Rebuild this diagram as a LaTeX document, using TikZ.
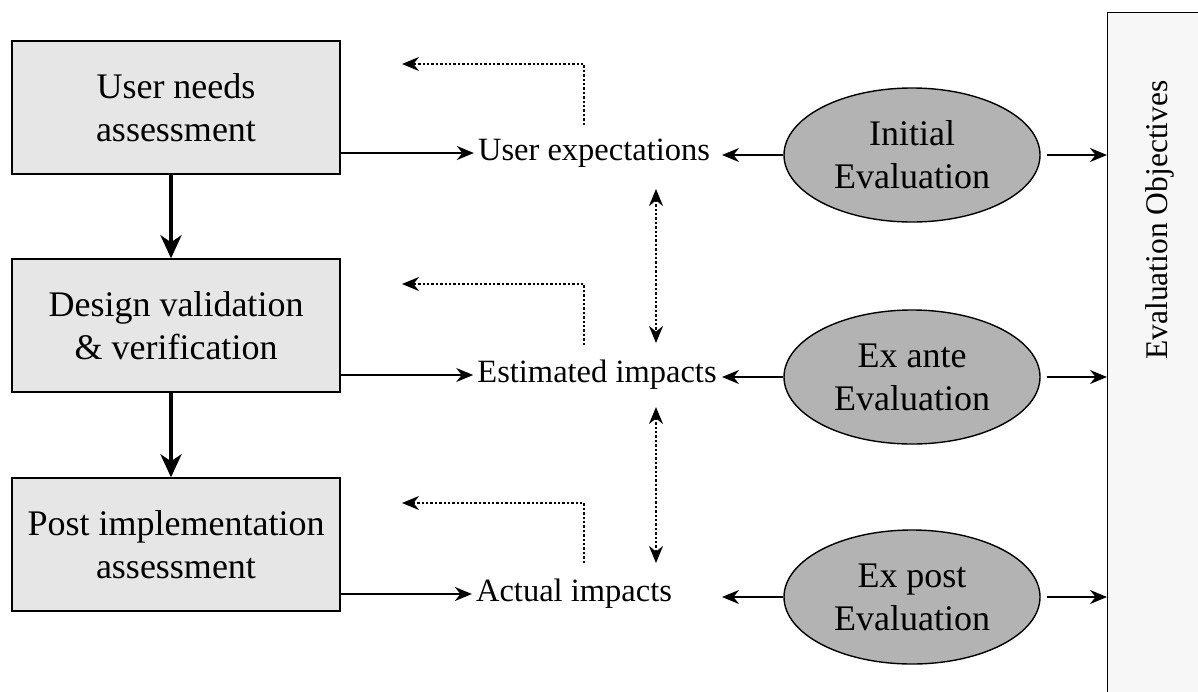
\documentclass[tikz,border=0pt]{standalone}
\usepackage{fontspec}
\setmainfont{Liberation Serif}
\usetikzlibrary{arrows.meta,shapes.geometric}
\begin{document}
\begin{tikzpicture}[x=1pt,y=-1pt,
  box/.style={draw,line width=1.4pt,fill=boxgray,minimum width=328pt,minimum height=133pt,align=center,font=\fontsize{36}{43}\selectfont},
  ell/.style={draw,line width=1.4pt,fill=ellgray,ellipse,minimum width=256pt,minimum height=134pt,align=center,font=\fontsize{36}{43}\selectfont,inner sep=0pt},
  lbl/.style={font=\fontsize{32.5}{39}\selectfont,inner sep=4pt},
  arr/.style={line width=1.6pt,-{Stealth[length=17pt,width=14pt,inset=5.5pt]}},
  darr/.style={line width=1.6pt,{Stealth[length=17pt,width=14pt,inset=5.5pt]}-{Stealth[length=17pt,width=14pt,inset=5.5pt]}},
  thickarr/.style={line width=4pt,-{Stealth[length=23pt,width=21pt,inset=7pt]}},
  dotline/.style={line width=2.5pt,dash pattern=on 2.4pt off 2pt}
]
\definecolor{boxgray}{HTML}{E6E6E6}
\definecolor{ellgray}{HTML}{B3B3B3}
\definecolor{objgray}{HTML}{F7F7F7}
\useasboundingbox (0,0) rectangle (1198,691);
\fill[white] (0,0) rectangle (1198,691);

% left boxes
\node[box] (b1) at (176,107.5) {User needs\\assessment};
\node[box] (b2) at (176,325.5) {Design validation\\\& verification};
\node[box] (b3) at (176,544.5) {Post implementation\\assessment};

% middle labels
\node[lbl] (ue) at (594,153) {User expectations};
\node[lbl] (ei) at (597,375) {Estimated impacts};
\node[lbl] (ai) at (574,594) {Actual impacts};

% ellipses
\node[ell] (ie) at (912,155) {Initial\\Evaluation};
\node[ell] (xa) at (912,377) {Ex ante\\Evaluation};
\node[ell] (xp) at (912,597) {Ex post\\Evaluation};

% objectives box
\node[draw,line width=1.4pt,fill=objgray,anchor=north west,minimum width=120pt,minimum height=720pt,inner sep=0pt] (eo) at (1107,12) {};
\node[rotate=90,font=\fontsize{31.5}{38}\selectfont] (eot) at (1160,220) {Evaluation Objectives};

% thick vertical arrows
\draw[thickarr] (b1.south -| 171,0) -- (b2.north -| 171,0);
\draw[thickarr] (b2.south -| 171,0) -- (b3.north -| 171,0);

% box to label arrows
\draw[arr] (b1.east |- ue.west) -- (ue.west);
\draw[arr] (b2.east |- ei.west) -- (ei.west);
\draw[arr] (b3.east |- ai.west) -- (ai.west);

% ellipse to label arrows
\coordinate (tipx) at (722,0);
\draw[arr] (ie.west) -- (ie.west -| tipx);
\draw[arr] (xa.west) -- (xa.west -| tipx);
\draw[arr] (xp.west) -- (xp.west -| tipx);

% ellipse to objectives arrows
\draw[arr,shorten <=6pt] (ie.east) -- (ie.east -| eo.west);
\draw[arr,shorten <=6pt] (xa.east) -- (xa.east -| eo.west);
\draw[arr,shorten <=6pt] (xp.east) -- (xp.east -| eo.west);

% dotted feedback elbows
\coordinate (s1) at (584,125);
\coordinate (t1) at (402,64);
\coordinate (s2) at (584,345);
\coordinate (t2) at (402,284);
\coordinate (s3) at (584,563);
\coordinate (t3) at (402,503);
\draw[dotline,arr] (s1) |- (t1);
\draw[dotline,arr] (s2) |- (t2);
\draw[dotline,arr] (s3) |- (t3);

% dotted double vertical arrows
\coordinate (v1a) at (656,189);
\coordinate (v1b) at (656,343);
\coordinate (v2a) at (656,407);
\coordinate (v2b) at (656,563);
\draw[dotline,darr] (v1a) -- (v1b);
\draw[dotline,darr] (v2a) -- (v2b);
\end{tikzpicture}
\end{document}
